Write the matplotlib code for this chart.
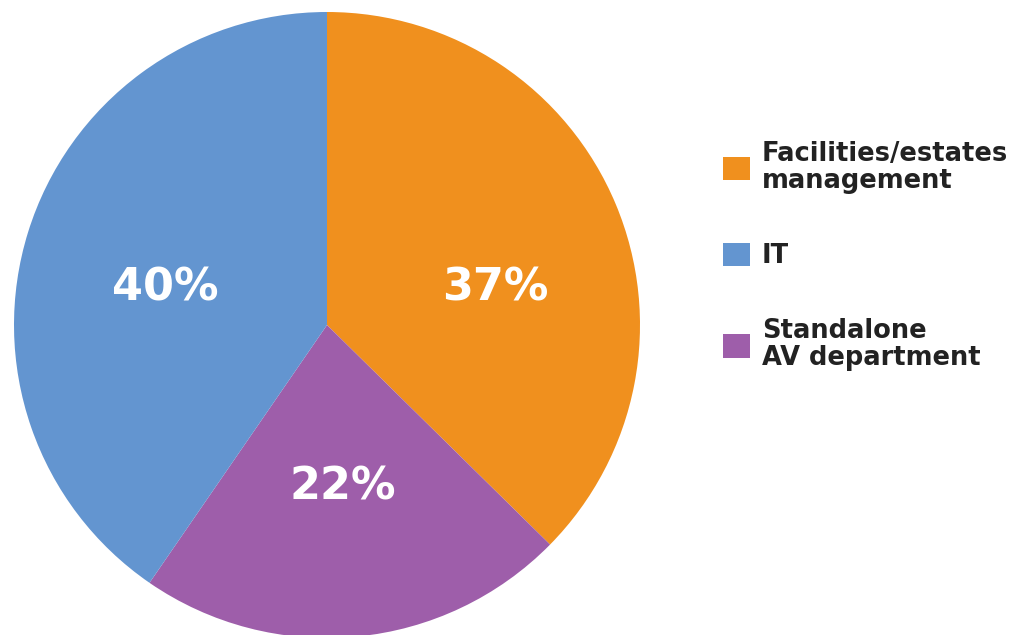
import matplotlib.pyplot as plt
from matplotlib.patches import Patch

# data
categories = ['Facilities/estates\nmanagement', 'Standalone\nAV department', 'IT']
values = [37, 22, 40]
colors = ['#F0901E', '#9E5EAA', '#6395D0']
legend_order = [0, 2, 1]  # Facilities, IT, Standalone

fig = plt.figure(figsize=(10.12, 6.35), dpi=100)
ax = fig.add_axes([14 / 1012, -3 / 635, 626 / 1012, 626 / 635])

wedges, _ = ax.pie(values, colors=colors, startangle=90, counterclock=False,
                   wedgeprops=dict(linewidth=0))
ax.set_xlim(-1, 1)
ax.set_ylim(-1, 1)
ax.set_aspect('equal')
ax.axis('off')

# percentage labels
label_pos = [(0.537, 0.118), (0.051, -0.518), (-0.518, 0.118)]
for v, (x, y) in zip(values, label_pos):
    ax.text(x, y, f'{v}%', color='white', fontsize=32, fontweight='bold',
            ha='center', va='center', family='DejaVu Sans')

handles = [Patch(facecolor=colors[i], edgecolor='none') for i in legend_order]
labels = [categories[i] for i in legend_order]
leg = fig.legend(handles, labels, loc='center left', bbox_to_anchor=(700 / 1012, 1 - 256 / 635),
                 frameon=False, handlelength=1.05, handleheight=1.05, handletextpad=0.45,
                 labelspacing=1.9, prop=dict(size=18.5, weight='bold', family='DejaVu Sans'))
for t in leg.get_texts():
    t.set_color('#222222')
    t.set_linespacing(1.05)

fig.savefig('out.png', dpi=100)
